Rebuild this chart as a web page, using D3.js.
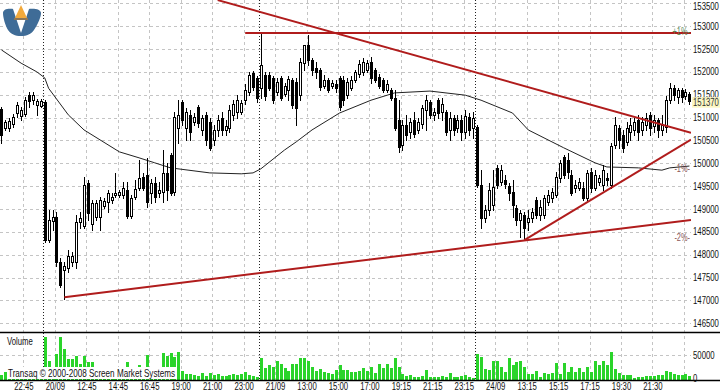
<!DOCTYPE html>
<html><head><meta charset="utf-8">
<script src="https://cdn.jsdelivr.net/npm/d3@7"></script>
<style>body{margin:0;background:#fff;} svg{display:block;}</style>
</head><body>
<svg id="c" width="720" height="392"></svg>
<script>
// ---------- DATA ----------
const opens = [151190,150770,150770,150860,151100,151040,151080,151490,151380,151280,151250,
151340,148320,148740,148830,147840,147670,147710,147840,147840,148720,
148630,149570,148670,148830,148830,149070,149150,149200,149310,149310,
149310,149420,148850,149260,149460,149700,149740,149350,149570,149350,
149370,149790,150180,149370,150770,151340,150770,151060,150900,151230,
150730,151060,150900,150510,150730,150990,150730,150770,151060,151120,
151120,151380,151560,151980,151870,
151650,151930,151930,151870,151560,151870,151520,151600,151820,151780,
151490,152190,152590,152260,152080,152040,151690,151820,151690,151730,
151870,151820,151490,151650,151820,151950,152000,152040,152220,152040,
151890,151820,151600,151600,151430,150950,150400,150840,150690,150950,
150730,150860,151170,151340,151060,151380,151120,151120,150730,150990,
150770,150950,150690,151010,150770,
150790,149530,148800,148980,149090,149900,149590,149640,149500,149370,
149020,148760,148870,148720,148800,149200,148870,148870,149150,149240,
149310,149680,150140,150070,149740,149460,149460,149460,149240,149810,
149460,149590,149530,149680,149530,150400,150770,150620,150470,150690,
150730,150950,150730,150840,151060,150820,150950,150730,150790,151380,
151650,151450,151600,151470,151520];
const highs = [151230,150950,150990,151080,151340,151230,151450,151560,151560,151410,151410,
151380,148980,148980,148940,147930,147840,148100,148060,148870,148940,
149700,149640,149200,149200,149260,149240,149420,149350,149790,149420,
149590,149590,149310,149640,150070,149790,150120,149660,149700,149590,
150290,150010,150230,151120,151380,151380,151210,151170,151100,151280,
151060,151120,150990,150840,151060,151120,150950,151280,151380,151490,
151380,151730,152000,152020,151910,
152850,152000,152000,151910,151870,151910,151760,151910,151870,151870,
152300,152590,152810,152300,152220,152080,151930,151870,151820,151820,
151910,151910,151870,151910,152040,152260,152300,152260,152330,152080,
151950,151870,151820,151650,151600,151380,150950,151060,150990,151120,
150990,151280,151490,151380,151210,151430,151430,151170,151120,151060,
151060,151060,151170,151100,151120,
150840,149850,149090,149570,149850,149960,149960,149740,149570,149640,
149090,148980,148940,148980,149020,149260,149200,149310,149420,149460,
149810,150070,150180,150230,149850,149640,149680,149590,149850,149900,
149850,149740,149960,149790,150440,151010,150840,150730,150900,150990,
150990,151060,151010,151100,151120,151060,150990,151060,151470,151760,
151710,151650,151650,151630,151560];
const lows = [150440,150730,150710,150790,151010,150950,151040,151230,151300,151060,151230,
148280,148280,148540,147750,147300,147030,147620,147750,147710,148590,
148590,148760,148540,148760,148540,149020,148940,149130,149260,149260,
149240,148800,148800,149220,149420,149420,149040,149130,149150,149260,
149150,149200,149310,149310,150440,150840,150510,150510,150840,150790,
150620,150400,150290,150400,150600,150620,150620,150690,150950,150990,
151080,151300,151490,151600,151340,
151430,151380,151600,151320,151490,151380,151470,151380,151210,150840,
151380,152040,152150,151930,151870,151600,151650,151560,151650,151560,
151170,151280,151430,151600,151780,151890,151930,152000,151760,151780,
151650,151560,151560,151380,150730,150250,150290,150510,150550,150580,
150660,150770,150730,150990,150950,150990,150950,150620,150510,150620,
150690,150510,150550,150620,150550,
149480,148590,148720,148870,148980,149460,149530,149460,149200,148830,
148650,148390,148320,148540,148720,148800,148760,148800,149090,149150,
149260,149590,149680,149680,149310,149370,149420,149200,149200,149370,
149420,149530,149420,149530,149460,150340,150340,150250,150400,150510,
150620,150510,150620,150730,150620,150690,150580,150620,150690,151320,
151380,151320,151340,151410,151300];
const closes = [150620,150900,150930,151010,151280,151170,151380,151360,151490,151360,151360,
148320,148760,148830,147840,147340,147750,147970,147970,148720,148800,
149530,148910,149130,149130,149200,149180,149350,149260,149350,149370,
149460,148850,149240,149440,149680,149460,149150,149570,149260,149420,
149790,149420,149350,151010,151060,150950,151120,150690,151010,150880,
150990,150510,150340,150730,150950,150730,150820,151170,151300,151380,
151320,151600,151930,151670,151430,
152150,151470,151650,151380,151780,151430,151690,151840,151280,151210,
152220,152590,152260,152040,152000,151670,151820,151600,151760,151650,
151230,151380,151780,151820,152000,152170,152220,152190,151870,151820,
151690,151600,151730,151430,150770,150360,150840,150620,150900,150640,
150900,151210,151380,151060,151120,151100,151300,150690,150990,150730,
150950,150690,151040,150730,150990,
149530,148800,148980,149420,149480,149530,149850,149550,149350,149090,
148760,148910,148590,148800,148940,148870,149040,149240,149310,149370,
149700,150010,149740,149810,149350,149530,149590,149240,149790,149460,
149740,149680,149850,149640,150380,150840,150510,150340,150770,150840,
150900,150690,150900,150990,150770,150950,150730,150840,151380,151650,
151490,151600,151450,151560,151370];
const volumes = [6000,12000,5000,7000,6000,8000,5000,9000,6000,7000,8000,
90000,37000,9000,51500,90000,63000,41000,41000,47700,31000,
47700,34900,34900,6000,9000,5000,8000,4000,10000,7000,
9000,34900,10000,9000,28800,10000,50000,9000,10000,8000,
53800,47700,53800,46200,57600,15900,9100,9100,6800,4500,
11000,4500,11000,6800,9100,4500,4500,6800,9100,6800,
9100,12000,6000,4500,2300,
44000,22000,27300,25000,37100,31000,22000,15900,29600,29600,
42400,42400,37100,25000,15900,19000,13600,10600,8300,17400,
27300,17400,17400,12100,12100,15900,21200,15900,23500,10600,
31000,22000,29600,22000,44000,25000,8300,4500,6800,3000,
3000,4500,18200,3000,2300,3000,4500,2300,10600,2300,
3000,4500,6100,2300,1000,
52300,46200,19700,17400,36400,36400,25000,13600,44000,28800,
34900,37100,23500,8300,8300,15900,3000,9800,8300,9800,
32600,8300,32600,12100,25000,12100,22000,13600,25000,12100,
36400,28800,36400,28800,57600,19700,9800,6100,6100,6100,
1000,2300,2300,4500,4500,4500,6100,6100,15900,12100,
8300,6100,6100,8300,4500];
// moving average (bar index, value)
const maBars   = [0,5,9,11,12,17,21,30,35,39,43,53,61,64,66,72,75,79,86,94,100,109,118,122,130,134,143,151,154,162,168,170,175];
const maValues = [152480,152190,152000,151870,151640,151060,150730,150250,150120,150010,149900,149790,149770,149790,149880,150290,150470,150730,151100,151380,151540,151580,151490,151380,151100,150730,150340,150010,149920,149900,149850,149900,149940];
const timeLabels = ["22:45","20/09","12:45","14:45","16:45","19:00","21:00","23:00","21/09","13:00","15:00","17:00","19:15","21:15","23:15","24/09","13:15","15:15","17:15","19:30","21:30"];
const priceTicks = [146500,147000,147500,148000,148500,149000,149500,150000,150500,151000,151500,152000,152500,153000,153500];
const volumeTicks = [0, 50000];
const dayBreaks = [10.5, 65.5, 120.5];
const lastPrice = 151370;
const levelNames = ["+1%-", "-1%-", "-2%-"];
const levelValues = [152850, 149860, 148340];
// trend lines: [bar, price] -> [bar, price]
const trendLines = [
  [[62, 152850], [175.4, 152850]],
  [[55, 153570], [175.4, 150670]],
  [[16, 147070], [175.4, 148760]],
  [[133, 148320], [175.4, 150520]]
];

// ---------- DRAW ----------
const svg = d3.select("#c");
const W = 720, plotR = 691, mainBot = 332, volBot = 380;
const FONT = "'Liberation Sans',Arial,sans-serif";
const SX = 0.74; // narrow lettering
const x = d3.scaleLinear().domain([-0.371, 175.4]).range([0, plotR]);
const y = d3.scaleLinear().domain([146500, 153500]).range([323.3, 3.3]);
const yv = d3.scaleLinear().domain([0, 50000]).range([378, 355]);

function label(px, py, str, anchor, size, fill) {
  return svg.append("text")
    .attr("transform", `translate(${px},${py}) scale(${SX},1)`)
    .attr("text-anchor", anchor || "start")
    .attr("font-family", FONT).attr("font-size", size || 10.5)
    .attr("fill", fill || "#111").text(str);
}

svg.append("rect").attr("width", W).attr("height", 392).attr("fill", "#fff");

const grid = svg.append("g").attr("stroke", "#c4c4c4").attr("stroke-dasharray", "3,3").attr("stroke-width", 1);
priceTicks.forEach(p => {
  const yy = Math.round(y(p)) + 0.5;
  grid.append("line").attr("x1", 0).attr("x2", plotR).attr("y1", yy).attr("y2", yy);
});
grid.append("line").attr("x1", 0).attr("x2", plotR).attr("y1", Math.round(yv(50000)) + 0.5).attr("y2", Math.round(yv(50000)) + 0.5);
const tickBar = k => 5.6 + 8 * k;
for (let k = 0; k <= 21; k++) {
  const xx = Math.round(x(tickBar(k))) + 0.5;
  grid.append("line").attr("x1", xx).attr("x2", xx).attr("y1", 0).attr("y2", volBot);
}
dayBreaks.forEach(b => {
  const xx = Math.round(x(b)) + 0.5;
  svg.append("line").attr("x1", xx).attr("x2", xx).attr("y1", 0).attr("y2", volBot)
    .attr("stroke", "#222").attr("stroke-dasharray", "1,2");
});

// volume bars
svg.append("g").selectAll("rect").data(volumes).join("rect")
  .attr("x", (d, i) => Math.round(x(i)) - 1)
  .attr("y", d => yv(d))
  .attr("width", 3)
  .attr("height", d => volBot - yv(d))
  .attr("fill", "#2ad42a")
  .attr("shape-rendering", "crispEdges");

// moving average
const maLine = d3.line().x(d => x(d[0])).y(d => y(d[1]));
svg.append("path").datum(maBars.map((b, i) => [b, maValues[i]]))
  .attr("d", maLine).attr("fill", "none").attr("stroke", "#222").attr("stroke-width", 1);

// candles
const cg = svg.append("g").attr("shape-rendering", "crispEdges");
opens.forEach((o, i) => {
  const c = closes[i];
  const cx = Math.round(x(i));
  cg.append("line").attr("x1", cx + 0.5).attr("x2", cx + 0.5)
    .attr("y1", Math.round(y(highs[i]))).attr("y2", Math.round(y(lows[i])) + 1)
    .attr("stroke", "#000");
  const top = Math.round(y(Math.max(o, c))), bot = Math.round(y(Math.min(o, c)));
  cg.append("rect").attr("x", cx - 0.5).attr("y", top + 0.5)
    .attr("width", 2).attr("height", Math.max(bot - top, 1))
    .attr("fill", c >= o ? "#fff" : "#000").attr("stroke", "#000");
});

// trend lines
const clip = svg.append("clipPath").attr("id", "plotclip");
clip.append("rect").attr("x", 0).attr("y", 0).attr("width", plotR).attr("height", mainBot);
svg.append("g").attr("clip-path", "url(#plotclip)").selectAll("line").data(trendLines).join("line")
  .attr("x1", d => x(d[0][0])).attr("y1", d => y(d[0][1]))
  .attr("x2", d => x(d[1][0])).attr("y2", d => y(d[1][1]))
  .attr("stroke", "#b01c1c").attr("stroke-width", 2);

// level labels
levelNames.forEach((n, i) => {
  label(690, y(levelValues[i]) + 2, n, "end", 10, i === 0 ? "#5b8a5b" : "#8c5858");
});

// panel borders
svg.append("line").attr("x1", 0).attr("x2", W).attr("y1", mainBot + 0.5).attr("y2", mainBot + 0.5).attr("stroke", "#000").attr("stroke-width", 1.3);
svg.append("line").attr("x1", 0).attr("x2", W).attr("y1", volBot + 0.5).attr("y2", volBot + 0.5).attr("stroke", "#000").attr("stroke-width", 1.3);

// price axis labels
priceTicks.forEach(p => label(693, Math.max(y(p) + 3.5, 9.5), p));
// current price box
svg.append("rect").attr("x", 692).attr("y", y(lastPrice) - 3.5).attr("width", 28).attr("height", 10.5).attr("fill", "#fbf7c4");
label(693, y(lastPrice) + 5.5, lastPrice, "start", 10.5, "#333");

// volume axis labels
volumeTicks.forEach(v => label(693, yv(v) + 4, v));
label(7, 345, "Volume");

// copyright text with white backing
svg.append("rect").attr("x", 7).attr("y", 367).attr("width", 169).attr("height", 12).attr("fill", "#fff");
svg.append("text").attr("x", 8).attr("y", 377).attr("font-family", FONT).attr("font-size", 10.5)
  .attr("fill", "#111").attr("textLength", 167).attr("lengthAdjust", "spacingAndGlyphs")
  .text("Transaq \u00a9 2000-2008 Screen Market Systems");

// time axis labels
timeLabels.forEach((t, k) => label(x(tickBar(k)) + 0.5, 390, t, "middle"));

// logo
const logo = svg.append("g");
logo.append("path").attr("d", "M3,13 C3,9 8,8 14,9 L28,9 C34,8 41,9 41,13 C41,17 38,24 34,30 C31,34 27,36 21,36 C15,36 11,34 8,30 C5,25 3,17 3,13 Z")
  .attr("fill", "#3f6c97");
logo.append("path").attr("d", "M12,6 L30,6 L21,33 Z").attr("fill", "#fff");
logo.append("path").attr("d", "M15,18 L27,18 L21,5 Z").attr("fill", "#f2a93b");
logo.append("rect").attr("x", 14).attr("y", 18).attr("width", 14).attr("height", 2).attr("fill", "#8d7656");
</script>
</body></html>
